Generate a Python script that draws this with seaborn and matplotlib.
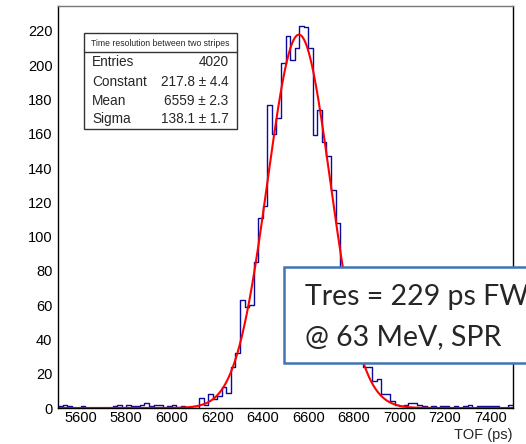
import numpy as np
import pandas as pd
import seaborn as sns
import matplotlib
matplotlib.use("Agg")
import matplotlib.pyplot as plt
from matplotlib.patches import Rectangle
from matplotlib.lines import Line2D
from matplotlib.ticker import MultipleLocator

# ---------------- data ----------------
bin_start = 5500
bin_width = 20
counts = [1, 2, 1, 0, 0, 1, 0, 0, 0, 0,
          0, 0, 1, 2, 0, 2, 1, 1, 2, 3,
          1, 2, 2, 0, 1, 2, 0, 1, 0, 0,
          0, 6, 2, 8, 5, 7, 12, 9, 24, 32,
          63, 59, 60, 85, 111, 118, 177, 160, 169, 201,
          217, 203, 210, 223, 222, 210, 159, 174, 155, 147,
          127, 108, 80, 66, 52, 42, 30, 24, 24, 16,
          17, 8, 8, 4, 2, 1, 2, 3, 3, 2,
          1, 0, 1, 0, 1, 1, 0, 1, 0, 1,
          2, 0, 1, 1, 1, 1, 1, 0, 0, 2]

fit_constant = 217.8
fit_mean = 6559.0
fit_sigma = 138.1

stats_title = "Time resolution between two stripes"
stats_labels = ["Entries", "Constant", "Mean", "Sigma"]
stats_values = ["4020", "217.8 \u00b1 4.4", "6559 \u00b1 2.3", "138.1 \u00b1 1.7"]

xtick_values = [5600, 5800, 6000, 6200, 6400, 6600, 6800, 7000, 7200, 7400]
ytick_values = [0, 20, 40, 60, 80, 100, 120, 140, 160, 180, 200, 220]
x_label = "TOF (ps)"
note_lines = ["Tres = 229 ps FWHM", "@ 63 MeV, SPR"]

# ---------------- build ----------------
n_bins = len(counts)
bin_end = bin_start + bin_width * n_bins
centers = bin_start + bin_width * (np.arange(n_bins) + 0.5)
df = pd.DataFrame({"tof": centers, "n": np.asarray(counts, dtype=float)})

W, H = 526, 444
fig = plt.figure(figsize=(W / 100, H / 100), dpi=100)
sns.set_style("white")
plt.rcParams["font.family"] = ["Liberation Sans", "DejaVu Sans"]

ax = fig.add_axes([58 / W, 1 - 408 / H, 455 / W, 402 / H])

sns.histplot(data=df, x="tof", weights="n", binwidth=bin_width,
             binrange=(bin_start, bin_end), element="step",
             fill=False, color="#0b0b9a", linewidth=1.0, ax=ax)

xf = np.linspace(bin_start, bin_end, 800)
fit_df = pd.DataFrame({"x": xf,
                       "y": fit_constant * np.exp(-0.5 * ((xf - fit_mean) / fit_sigma) ** 2)})
sns.lineplot(data=fit_df, x="x", y="y", color="#ff0000", linewidth=1.5, ax=ax)

ax.set_xlim(bin_start, bin_end)
ax.set_ylim(0, 234.5)
ax.set_xlabel("")
ax.set_ylabel("")
ax.set_xticks(xtick_values)
ax.set_yticks(ytick_values)
ax.xaxis.set_minor_locator(MultipleLocator(50))
ax.yaxis.set_minor_locator(MultipleLocator(4))
ax.tick_params(axis="both", which="both", direction="in", top=False, right=False,
               colors="black", width=0.8, labelsize=10.5)
ax.tick_params(axis="both", which="major", length=7.5)
ax.tick_params(axis="both", which="minor", length=3.8)
ax.tick_params(axis="y", which="major", pad=4)
ax.tick_params(axis="x", which="major", pad=2.5)
for s in ax.spines.values():
    s.set_visible(True)
    s.set_color("black")
    s.set_linewidth(1.0)
ax.spines["top"].set_color("#777777")

fig.text(513 / W, 1 - 435 / H, x_label, ha="right", va="center", fontsize=10.5)

# ---------------- stats box ----------------
def fx(px):
    return px / W

def fy(py):
    return 1 - py / H

box = Rectangle((fx(84), fy(129.3)), fx(237.3) - fx(84), fy(33.3) - fy(129.3),
                transform=fig.transFigure, facecolor="white", edgecolor="#333333",
                linewidth=1.0, zorder=5)
fig.add_artist(box)
fig.add_artist(Line2D([fx(84), fx(237.3)], [fy(52.3), fy(52.3)],
                      transform=fig.transFigure, color="#333333", linewidth=1.0, zorder=6))
fig.text(fx(160.6), fy(43.3), stats_title, ha="center", va="center", fontsize=6.2, zorder=7)
row_y = [62.3, 81.7, 101.0, 119.0]
for lab, val, yy in zip(stats_labels, stats_values, row_y):
    fig.text(fx(92), fy(yy), lab, ha="left", va="center", fontsize=9.8, zorder=7)
    fig.text(fx(228.3), fy(yy), val, ha="right", va="center", fontsize=9.8, zorder=7)

# ---------------- overlay note ----------------
note = Rectangle((fx(284), fy(363.3)), fx(560) - fx(284), fy(266.7) - fy(363.3),
                 transform=fig.transFigure, facecolor="white", edgecolor="#4274b4",
                 linewidth=1.8, zorder=8)
fig.add_artist(note)
fig.text(fx(305), fy(305), note_lines[0], ha="left", va="baseline", fontsize=20.5,
         family=["Lato", "DejaVu Sans"], zorder=9)
fig.text(fx(305), fy(345), note_lines[1], ha="left", va="baseline", fontsize=20.5,
         family=["Lato", "DejaVu Sans"], zorder=9)

fig.savefig("out.png", dpi=100)
